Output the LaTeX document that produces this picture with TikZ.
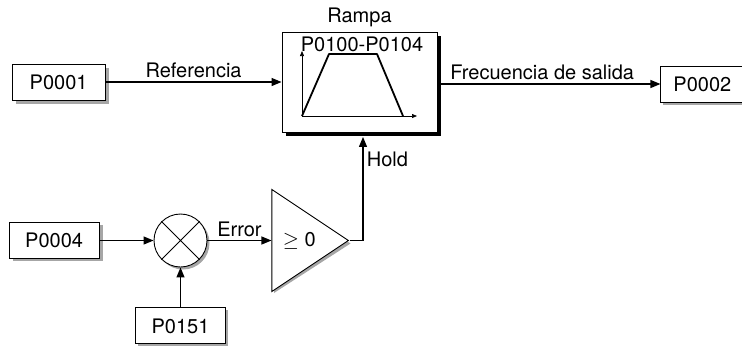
\documentclass[tikz,border=0pt]{standalone}
\usepackage{fontspec}
\setmainfont{TeX Gyre Heros}
\usetikzlibrary{positioning,arrows.meta,shapes.geometric}

\begin{document}
\begin{tikzpicture}[x=1pt,y=-1pt,
		font=\fontsize{20}{24}\selectfont,
		par/.style={draw,line width=0.9pt,fill=white,minimum height=36pt,inner sep=0pt},
		sig/.style={line width=1.2pt,-{Triangle[length=10pt,width=8pt]}},
		axis/.style={line width=0.7pt,-{Triangle[length=5pt,width=4pt]}},
		greyfill/.style={fill=black!35}]
	\useasboundingbox (0,0) rectangle (742,349);
	% shadows
	\fill (286,36) rectangle (441,136);
	\fill [greyfill] (16,68) rectangle (109,104);
	\fill [greyfill] (662.5,69) rectangle (745,105);
	\fill [greyfill] (12.5,225) rectangle (102.5,261);
	\fill [greyfill] (137.5,310) rectangle (227.5,346);
	\fill [greyfill] (183,243) circle (26.5);
	\fill [greyfill] (274,191) -- (350.5,243.5) -- (274,293) -- cycle;
	%
	\node [draw,line width=0.9pt,fill=white,minimum width=155pt,minimum height=100pt] (ramp) at (359.5,82) {};
	\node [above=0pt of ramp,inner sep=4pt] (rampname) {Rampa};
	\node (rampset) at (362,44) {P0100-P0104};
	\draw [axis] (302,116) -- (302,51);
	\draw [axis] (302,116) -- (417,116);
	\draw [line width=1.8pt,line join=round] (302,116) -- (329,54) -- (377,54) -- (403,116);
	\node [par,minimum width=93pt,left=176pt of ramp] (p1) {P0001};
	\node [par,minimum width=83pt,right=223pt of ramp,yshift=-2pt] (p2) {P0002};
	%
	\node [circle,draw,line width=0.9pt,fill=white,minimum size=53pt,inner sep=0pt] (sum) at (180.5,240.5) {};
	\draw [line width=0.8pt] (sum.north west) -- (sum.south east) (sum.north east) -- (sum.south west);
	\node [par,minimum width=90pt,left=54pt of sum] (p4) {P0004};
	\node [par,minimum width=90pt,below=40pt of sum] (p151) {P0151};
	\node [isosceles triangle,isosceles triangle stretches,draw,line width=0.9pt,fill=white,
		minimum width=102pt,minimum height=76.5pt,inner sep=0pt,right=64pt of sum] (cmp) {$\geq$ 0};
	%
	\draw [sig] (p1) -- (p1 -| ramp.west) node [midway,above] {Referencia};
	\draw [sig] (ramp.east |- p2) -- (p2) node [pos=0.47,above] {Frecuencia de salida};
	\draw [sig] (p4) -- (sum);
	\draw [sig] (p151) -- (sum);
	\draw [sig] (sum) -- (cmp.west) node [midway,above] {Error};
	\draw [sig] (cmp.east) -| ([xshift=3.5pt,yshift=-4.5pt]ramp.south) node [pos=0.89,right] {Hold};
\end{tikzpicture}
\end{document}
